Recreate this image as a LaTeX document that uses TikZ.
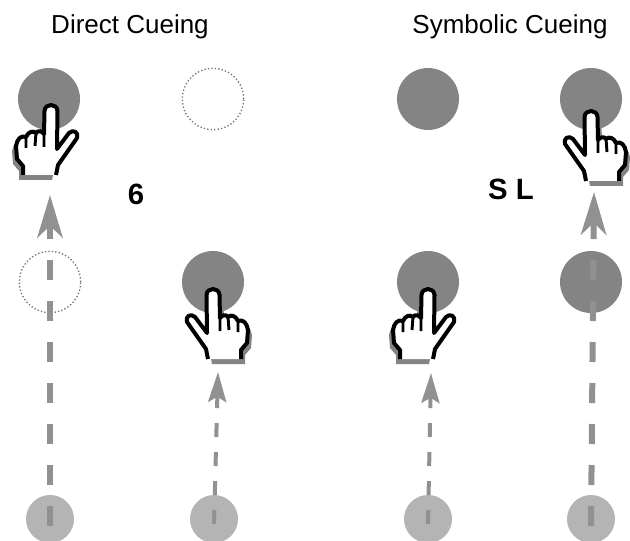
\documentclass[tikz,border=0pt]{standalone}
\usepackage{fontspec}
\setmainfont{Liberation Sans}
\usetikzlibrary{arrows.meta}
\definecolor{cuedark}{RGB}{132,132,132}
\definecolor{cuelight}{RGB}{180,180,180}
\definecolor{cuegray}{RGB}{145,145,145}
\tikzset{
  x=0.75pt, y=-0.75pt,
  target/.style={circle, fill=cuedark, minimum size=46.5pt, inner sep=0pt},
  ghost/.style={circle, draw=black!55, line width=1pt, dash pattern=on 1pt off 1.6pt, minimum size=46pt, inner sep=0pt},
  start/.style={circle, fill=cuelight, minimum size=36pt, inner sep=0pt},
  title/.style={font=\fontsize{19.5pt}{22pt}\selectfont},
  letter/.style={font=\fontsize{22pt}{24pt}\selectfont\bfseries},
  bigcue/.style={draw=cuegray, line width=4.5pt, dash pattern=on 15pt off 15.75pt,
    -{Stealth[length=32pt, width=19pt, inset=9pt, fill=cuegray]}},
  smallcue/.style={draw=cuegray, line width=3pt, dash pattern=on 10.5pt off 11.25pt,
    -{Stealth[length=22.5pt, width=13.5pt, inset=4pt, fill=cuegray]}},
  pics/hand/.style={code={
    \def\handpath{(28,70) -- (28,61) -- (34,54) -- (35,41)
      .. controls (34,34) and (30,30) .. (25,32)
      .. controls (23,27) and (18,25) .. (15,28)
      .. controls (13,25) and (9,26) .. (7,29) -- (6.5,6)
      .. controls (6,-2) and (-6,-2) .. (-6.5,6) -- (-6,44) -- (-18,28)
      .. controls (-22,24) and (-28,27) .. (-26,33) -- (-7,60) -- (-5,70)}
    \fill[cuedark, shift={(4,5)}] \handpath -- cycle;
    \fill[white] \handpath -- cycle;
    \draw[black, line width=3pt, line join=round] \handpath;
    \draw[black, line width=2.2pt] (7,29) -- (7,42) (15,28) -- (16,41) (25,32) -- (25,43);
  }}
}

\begin{document}
\begin{tikzpicture}
\useasboundingbox (0,0) rectangle (630,541);

% --- Titles ---
\node[title] (direct) at (130,27) {Direct Cueing};
\node[title] (symbolic) at (510,27) {Symbolic Cueing};

% --- Upper row ---
\node[target] (a1) at (49,99) {};
\node[ghost] (a2) at (213,99) {};
\node[target] (a3) at (428,99) {};
\node[target] (a4) at (591,99) {};

% --- Middle row ---
\node[ghost] (b1) at (50,282) {};
\node[target] (b2) at (213,282) {};
\node[target] (b3) at (428,282) {};
\node[target] (b4) at (591,282) {};

% --- Start row ---
\node[start] (s1) at (50,519) {};
\node[start] (s2) at (214,519) {};
\node[start] (s3) at (428,519) {};
\node[start] (s4) at (591,519) {};

% --- Cue letters ---
\node[letter] (six) at (136,194) {6};
\node[letter] (sl) at (511,189) {S L};

% --- Arrow ends ---
\coordinate (t1) at (50,195);
\coordinate (t2) at (218,372);
\coordinate (t3) at (431,373);
\coordinate (t4) at (594,192);

% --- Cues ---
\draw[bigcue] ([yshift=-5.25pt]s1.center) -- (t1);
\draw[smallcue] ([yshift=-3.75pt]s2.center) -- (t2);
\draw[smallcue] ([yshift=-3.75pt]s3.center) -- (t3);
\draw[bigcue] ([yshift=-5.25pt]s4.center) -- (t4);

% --- Hands ---
\pic (h1) at (51,105) [xscale=-1] {hand};
\pic (h2) at (213,289) {hand};
\pic (h3) at (428,289) [xscale=-1] {hand};
\pic (h4) at (591,111) {hand};

\end{tikzpicture}
\end{document}
